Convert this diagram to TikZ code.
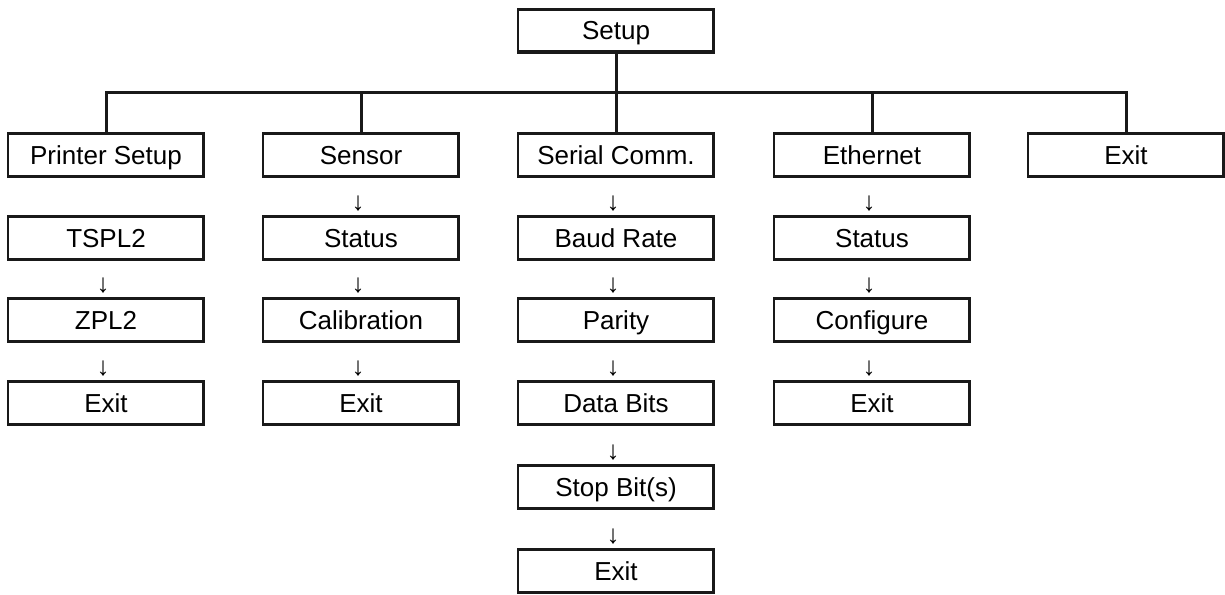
\documentclass[tikz,border=0pt]{standalone}
\usepackage{fontspec}
\setmainfont{Liberation Sans}
\begin{document}
\begin{tikzpicture}[x=1pt,y=-1pt,
  box/.style={draw=black!90, line width=2.6pt, fill=white, minimum width=196pt, minimum height=43pt,
    inner sep=0pt, text height=18pt, text depth=0pt, font=\fontsize{26}{30}\selectfont,
    path picture={\draw[line width=4pt,black!90]
      (path picture bounding box.north east) -- (path picture bounding box.south east)
      -- (path picture bounding box.south west);}},
  arr/.style={inner sep=0pt, font=\fontsize{26}{30}\selectfont},
  link/.style={draw=black!90, line width=3pt}]
\useasboundingbox (0,0) rectangle (1225,594);
% top
\node[box] (setup) at (616,31) {Setup};
% level 1
\node[box] (printer) at (106,155) {Printer Setup};
\node[box] (sensor) at (361,155) {Sensor};
\node[box] (serial) at (616,155) {Serial Comm.};
\node[box] (ether) at (872,155) {Ethernet};
\node[box] (exitA) at (1126,155) {Exit};
\coordinate (bar) at (616,92);
\draw[link] (setup.south) -- (serial.north);
\draw[link] (printer.north) |- (bar) -| (exitA.north);
\draw[link] (sensor.north) -- (sensor.north |- bar);
\draw[link] (ether.north) -- (ether.north |- bar);
% column 1
\node[box] (tspl) at (106,238) {TSPL2};
\node[arr] (a12) at (103,286) {↓};
\node[box] (zpl) at (106,320) {ZPL2};
\node[arr] (a13) at (103,369) {↓};
\node[box] (exit1) at (106,403) {Exit};
% column 2
\node[arr] (a21) at (358,204) {↓};
\node[box] (status2) at (361,238) {Status};
\node[arr] (a22) at (358,286) {↓};
\node[box] (calib) at (361,320) {Calibration};
\node[arr] (a23) at (358,369) {↓};
\node[box] (exit2) at (361,403) {Exit};
% column 3
\node[arr] (a31) at (613,204) {↓};
\node[box] (baud) at (616,238) {Baud Rate};
\node[arr] (a32) at (613,286) {↓};
\node[box] (parity) at (616,320) {Parity};
\node[arr] (a33) at (613,369) {↓};
\node[box] (data) at (616,403) {Data Bits};
\node[arr] (a34) at (613,453) {↓};
\node[box] (stop) at (616,487) {Stop Bit(s)};
\node[arr] (a35) at (613,537) {↓};
\node[box] (exit3) at (616,571) {Exit};
% column 4
\node[arr] (a41) at (869,204) {↓};
\node[box] (status4) at (872,238) {Status};
\node[arr] (a42) at (869,286) {↓};
\node[box] (config) at (872,320) {Configure};
\node[arr] (a43) at (869,369) {↓};
\node[box] (exit4) at (872,403) {Exit};
\end{tikzpicture}
\end{document}
